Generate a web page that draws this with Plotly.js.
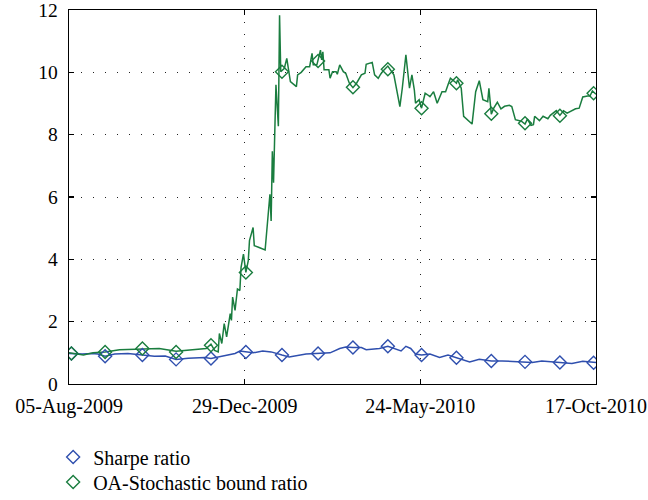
<!DOCTYPE html>
<html>
<head>
<meta charset="utf-8">
<script src="https://cdn.plot.ly/plotly-3.0.1.min.js"></script>
<style>html,body{margin:0;padding:0;background:#fff;}#chart{width:648px;height:500px;}</style>
</head>
<body>
<div id="chart"></div>
<script>
// Day offsets from 05-Aug-2009
const startDate = '2009-08-05';
const tickDates = ['2009-08-05', '2009-12-29', '2010-05-24', '2010-10-17'];
const tickLabels = ['05-Aug-2009', '29-Dec-2009', '24-May-2010', '17-Oct-2010'];
const yTicks = [0, 2, 4, 6, 8, 10, 12];

const sharpeDays = [0, 11, 19, 24, 30, 38, 49, 61, 71, 80, 89, 99, 113, 118, 127, 138, 142, 147, 153, 161, 168, 177, 183, 197, 208, 217, 225, 230, 236, 243, 247, 252, 258, 265, 270, 276, 280, 284, 288, 293, 300, 308, 315, 322, 327, 333, 341, 351, 360, 371, 379, 385, 393, 408, 418, 427, 436, 438];
const sharpeValues = [0.98, 0.96, 0.98, 0.96, 0.89, 0.96, 0.98, 0.93, 0.89, 0.90, 0.79, 0.83, 0.85, 0.82, 0.89, 0.98, 1.06, 1.03, 1.00, 1.06, 1.03, 0.93, 0.87, 0.96, 0.98, 1.00, 1.14, 1.19, 1.17, 1.17, 1.10, 1.12, 1.14, 1.21, 1.14, 1.06, 1.21, 1.14, 0.96, 0.93, 0.96, 0.85, 0.93, 0.85, 0.77, 0.71, 0.79, 0.74, 0.74, 0.71, 0.71, 0.69, 0.74, 0.69, 0.66, 0.73, 0.69, 0.69];

const oasDays = [0, 12, 20, 30, 42, 61, 75, 89, 103, 109, 114, 118, 121, 124, 125, 127, 129, 131, 134, 135, 136, 138, 140, 142, 143, 145, 147, 149, 150, 153, 154, 158, 163, 167, 168, 169, 170, 172, 174, 175, 176, 179, 181, 184, 187, 189, 190, 193, 197, 200, 202, 203, 206, 207, 209, 210, 211, 212, 216, 217, 219, 222, 223, 225, 228, 230, 233, 236, 239, 243, 246, 247, 252, 254, 257, 259, 261, 265, 268, 270, 275, 277, 280, 283, 285, 287, 288, 291, 293, 296, 298, 300, 303, 306, 310, 313, 315, 317, 320, 322, 323, 326, 328, 330, 335, 338, 341, 344, 348, 349, 350, 351, 353, 356, 359, 362, 366, 368, 371, 376, 379, 381, 384, 386, 387, 391, 394, 398, 400, 405, 408, 411, 414, 417, 421, 424, 427, 431, 433, 435, 437, 438];
const oasValues = [1.00, 0.93, 1.00, 1.03, 1.10, 1.12, 1.14, 1.05, 1.10, 1.14, 1.14, 1.28, 1.08, 1.03, 1.62, 1.30, 1.94, 1.51, 2.26, 2.04, 2.79, 2.36, 3.05, 3.00, 3.74, 4.17, 3.58, 3.96, 4.60, 5.02, 4.44, 4.38, 4.30, 6.09, 5.23, 7.47, 6.46, 9.60, 8.27, 11.83, 10.02, 10.13, 10.45, 9.70, 9.60, 9.54, 9.92, 10.00, 10.18, 10.18, 10.61, 10.24, 10.24, 10.40, 10.71, 10.40, 10.66, 10.08, 10.08, 9.81, 10.02, 10.02, 9.94, 10.24, 10.02, 9.97, 9.65, 9.51, 9.65, 9.92, 9.97, 10.26, 10.32, 9.92, 9.81, 9.94, 10.04, 10.20, 10.04, 9.92, 8.90, 9.49, 10.56, 9.49, 9.92, 9.44, 9.01, 9.12, 8.85, 9.33, 9.28, 9.22, 9.38, 9.01, 9.38, 9.38, 9.60, 9.81, 9.72, 9.65, 9.76, 9.49, 8.59, 8.51, 8.34, 9.38, 9.73, 9.12, 9.06, 9.49, 9.01, 8.66, 8.85, 9.04, 8.83, 8.91, 8.94, 8.90, 8.48, 8.43, 8.34, 8.50, 8.30, 8.32, 8.59, 8.45, 8.59, 8.51, 8.62, 8.77, 8.62, 8.77, 8.69, 8.75, 8.83, 8.85, 9.21, 9.24, 9.24, 9.40, 9.31, 9.30];

const markerDays = [2, 30, 61, 89, 118, 147, 177, 207, 236, 265, 293, 322, 351, 379, 408, 436];
const sharpeMarkers = [0.98, 0.89, 0.93, 0.79, 0.82, 1.03, 0.93, 0.98, 1.17, 1.21, 0.93, 0.84, 0.74, 0.71, 0.69, 0.68];
const oasMarkers = [0.98, 1.03, 1.14, 1.03, 1.24, 3.58, 10.02, 10.36, 9.52, 10.10, 8.85, 9.65, 8.67, 8.37, 8.61, 9.33];

const seriesNames = ['Sharpe ratio', 'OA-Stochastic bound ratio'];
const BLUE = '#2f4fae';
const GREEN = '#1a7d3f';

function toDate(d) {
  const base = Date.UTC(2009, 7, 5);
  return new Date(base + d * 86400000).toISOString().slice(0, 10);
}
const dates = arr => arr.map(toDate);

const FONT = 'Liberation Serif, Times New Roman, serif';
const TFONT = {family: FONT, size: 20, color: '#000'};
const YFONT = {family: FONT, size: 19.5, color: '#000'};

const traces = [
  {x: dates(sharpeDays), y: sharpeValues, mode: 'lines', line: {color: BLUE, width: 1.5}, showlegend: false, hoverinfo: 'skip'},
  {x: dates(oasDays), y: oasValues, mode: 'lines', line: {color: GREEN, width: 1.5}, showlegend: false, hoverinfo: 'skip'},
  {x: dates(markerDays), y: sharpeMarkers, mode: 'markers', name: seriesNames[0], legend: 'legend',
   marker: {symbol: 'diamond-open', size: 10, color: BLUE, line: {color: BLUE, width: 1.4}}},
  {x: dates(markerDays), y: oasMarkers, mode: 'markers', name: seriesNames[1], legend: 'legend2',
   marker: {symbol: 'diamond-open', size: 10, color: GREEN, line: {color: GREEN, width: 1.4}}}
];

const legendBase = {xref: 'container', yref: 'container', x: 0.082, xanchor: 'left', yanchor: 'middle',
                    orientation: 'v', font: TFONT, bgcolor: 'rgba(0,0,0,0)', borderwidth: 0};

const layout = {
  width: 648, height: 500,
  margin: {l: 69, r: 52, t: 10, b: 116, autoexpand: false},
  paper_bgcolor: '#fff', plot_bgcolor: '#fff',
  font: TFONT,
  showlegend: true,
  legend: Object.assign({}, legendBase, {y: (500 - 457) / 500}),
  legend2: Object.assign({}, legendBase, {y: (500 - 482) / 500}),
  xaxis: {
    type: 'date', range: [startDate, tickDates[3]],
    tickvals: tickDates, ticktext: tickLabels, tickangle: 0, automargin: false,
    ticks: 'inside', ticklen: 5, tickwidth: 1.3, tickcolor: '#000',
    showline: true, linecolor: '#000', linewidth: 1.4, mirror: 'ticks',
    showgrid: true, gridcolor: '#222', griddash: '1px,11px', gridwidth: 1,
    zeroline: false, tickfont: TFONT, ticklabelstandoff: 4, ticklabeloverflow: 'allow'
  },
  yaxis: {
    range: [0, 12], tickmode: 'array', tickvals: yTicks, ticktext: yTicks.map(String), automargin: false,
    ticks: 'inside', ticklen: 5, tickwidth: 1.3, tickcolor: '#000',
    showline: true, linecolor: '#000', linewidth: 1.4, mirror: 'ticks',
    showgrid: true, gridcolor: '#222', griddash: '1px,11px', gridwidth: 1,
    zeroline: false, tickfont: YFONT, ticklabelstandoff: 6, ticklabeloverflow: 'allow'
  }
};

Plotly.newPlot('chart', traces, layout, {displayModeBar: false, staticPlot: true});
</script>
</body>
</html>
